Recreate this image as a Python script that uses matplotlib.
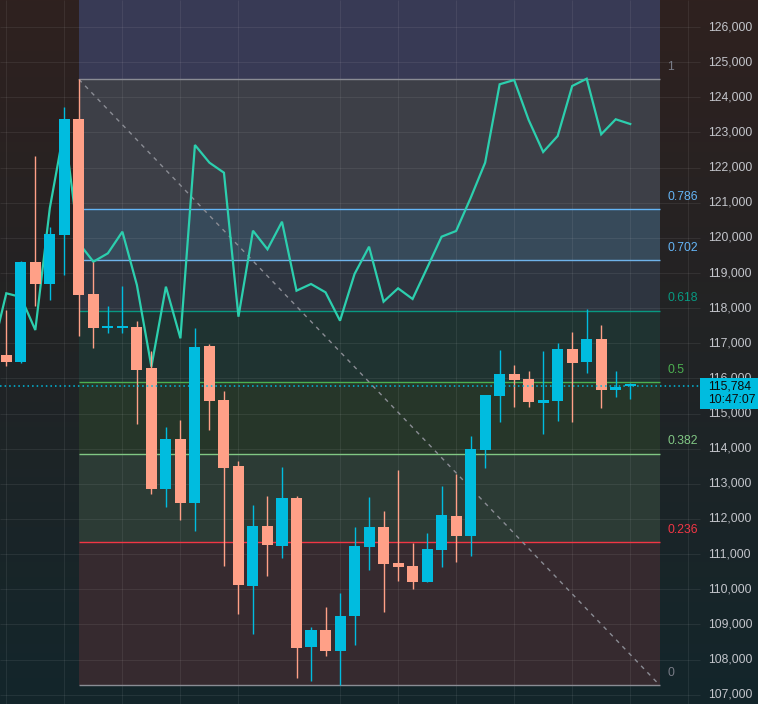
import numpy as np
import matplotlib
matplotlib.use("Agg")
import matplotlib.pyplot as plt
from matplotlib.patches import Rectangle

# ---------------- data ----------------
opens = [116667, 116476, 119314, 118696, 120091, 123383, 118403, 117441, 117435, 117455,
         116297, 112862, 114277, 112464, 116923, 115386, 113508, 110102, 111801, 111240,
         112598, 108366, 108841, 108252, 109248, 111212, 111772, 110748, 110662, 110216,
         111126, 112085, 111525, 113972, 115509, 116126, 115984, 115310, 115367, 116838,
         116476, 117122, 115680, 115771]
highs = [117948, 119330, 122330, 120310, 123725, 124513, 119322, 118061, 118631, 117635,
         116781, 114618, 114817, 117427, 116980, 115643, 113650, 112398, 112654, 113480,
         112654, 108926, 109496, 109903, 111772, 112626, 112228, 113394, 111317, 111602,
         112939, 113281, 114362, 115540, 116809, 116382, 116212, 116781, 117009, 117322,
         117976, 117521, 116212, 115879]
lows = [116363, 116450, 118070, 118241, 118944, 117216, 116875, 117279, 117279, 114712,
        112720, 112350, 111971, 111667, 114533, 110671, 109305, 108736, 110386, 110899,
        107484, 107398, 108110, 107276, 108423, 110557, 109362, 110244, 110016, 110200,
        110642, 110785, 110955, 113460, 114769, 115196, 115196, 114427, 114797, 114769,
        116163, 115167, 115480, 115423]
closes = [116476, 119314, 118696, 120110, 123383, 118383, 117444, 117464, 117492, 116249,
          112862, 114277, 112455, 116895, 115367, 113460, 110130, 111801, 111260, 112598,
          108329, 108841, 108252, 109239, 111232, 111772, 110728, 110642, 110216, 111146,
          112114, 111525, 113992, 115529, 116126, 115964, 115338, 115386, 116838, 116448,
          117122, 115680, 115756, 115784]

# overlay line (in price units of the chart)
line_idx = list(range(-1, 44))
line_vals = [116695, 118423, 118318, 117378, 120850, 123127, 119854, 119322, 119561, 120176,
             118659, 116334, 118611, 117142, 122643, 122140, 121855, 117757, 120204, 119675,
             120460, 118497, 118688, 118451, 117643, 118972, 119749, 118184, 118565, 118261,
             119143, 120034, 120196, 121135, 122140, 124371, 124493, 123355, 122444, 122899,
             124322, 124530, 122948, 123375, 123241]

fib_low = 107276
fib_high = 124513
fib_start_idx = 5
fib_levels = [0, 0.236, 0.382, 0.5, 0.618, 0.702, 0.786, 1, 1.618]
fib_labels = ["0", "0.236", "0.382", "0.5", "0.618", "0.702", "0.786", "1", "1.618"]
price_ticks = list(range(107000, 127000, 1000))
time_grid_idx = [0, 4, 8, 12, 16, 23, 27, 31, 35, 39, 43, 47]
last_price = 115784
last_time = "10:47:07"

# ---------------- styles / layout ----------------
W, H = 758, 704
X0_PX, DX_PX = 6.3, 14.51          # px position of first candle, px per candle
Y_ANCHOR_PRICE, Y_ANCHOR_PX, PX = 117000, 343.3, 28.458   # price per px
UP, DOWN = "#00bcdf", "#ffa087"
LINE_C = "#2ccfae"
TXT = "#c3c5cb"
FONT = ["Liberation Sans", "DejaVu Sans"]
FS = 8.7

fib_line_colors = ["#8a8c94", "#f23645", "#81c784", "#4caf50", "#089981", "#6fb3ea", "#64b5f6", "#8a8c94", None]
fib_text_colors = ["#787b86", "#f23645", "#81c784", "#4caf50", "#089981", "#64b5f6", "#64b5f6", "#787b86", None]
fib_fill_colors = [None, "#362a2f", "#2c3b35", "#263629", "#1f3331", "#2e3540", "#374a5a", "#3d3f47", "#383a55"]

def px_x(px):
    return (px - X0_PX) / DX_PX

xmin, xmax = px_x(0), px_x(W)
ymax = Y_ANCHOR_PRICE + Y_ANCHOR_PX * PX
ymin = Y_ANCHOR_PRICE - (H - Y_ANCHOR_PX) * PX
fib_end = px_x(659.5)
axis_px = 700

fig = plt.figure(figsize=(W / 100, H / 100), dpi=100)
ax = fig.add_axes([0, 0, 1, 1])
ax.set_xlim(xmin, xmax)
ax.set_ylim(ymin, ymax)
ax.axis("off")

# background gradient
top = np.array([0x2f, 0x21, 0x1f]) / 255
bot = np.array([0x13, 0x26, 0x2b]) / 255
t = np.linspace(0, 1, 256)[:, None, None]
grad = top[None, None, :] * (1 - t) + bot[None, None, :] * t
ax.imshow(grad, extent=[xmin, xmax, ymin, ymax], aspect="auto", origin="upper",
          zorder=0, interpolation="bilinear")

# fib fills
rng = fib_high - fib_low
lv_prices = [fib_low + l * rng for l in fib_levels]
for k in range(1, len(fib_levels)):
    ax.fill_between([fib_start_idx, fib_end], lv_prices[k - 1], lv_prices[k],
                    color=fib_fill_colors[k], lw=0, zorder=1)

# grid
ax.hlines(price_ticks, xmin, px_x(axis_px), color=(1, 1, 1, 0.07), lw=0.8, zorder=2)
ax.vlines(time_grid_idx, ymin, ymax, color=(1, 1, 1, 0.07), lw=0.8, zorder=2)

# fib lines + labels
trans = ax.get_yaxis_transform()
for k, l in enumerate(fib_levels):
    if fib_line_colors[k] is None:
        continue
    ax.hlines(lv_prices[k], fib_start_idx, fib_end, color=fib_line_colors[k], lw=1.0, zorder=3)
    ax.annotate(fib_labels[k], xy=(667 / W, lv_prices[k]), xycoords=trans,
                xytext=(0, 8.8), textcoords="offset points", ha="left", va="center",
                color=fib_text_colors[k], fontsize=FS, family=FONT, zorder=7)

# trend (diagonal) line
ax.plot([fib_start_idx, fib_end], [fib_high, fib_low], color="#8a8c94", lw=1.0,
        ls=(0, (3, 3.5)), zorder=3)

# overlay line
ax.plot(line_idx, line_vals, color=LINE_C, lw=1.6, zorder=4, solid_joinstyle="miter")

# candles
o = np.array(opens); c = np.array(closes); h = np.array(highs); lo = np.array(lows)
idx = np.arange(len(o))
cols = np.where(c >= o, UP, DOWN)
ax.vlines(idx, lo, h, colors=cols, lw=1.0, zorder=5)
body_bottom = np.minimum(o, c)
body_h = np.maximum(np.abs(c - o), 2.2 * PX)
ax.bar(idx, body_h, bottom=body_bottom, width=0.76, color=cols, lw=0, zorder=5)

# last price dotted line
ax.hlines(last_price, xmin, px_x(axis_px), color=UP, lw=1.1, ls=(0, (1, 2)), zorder=6)

# price axis labels
for p in price_ticks:
    ax.text(708 / W, p, f"{p:,}", transform=trans, ha="left", va="center",
            color=TXT, fontsize=FS, family=FONT, zorder=7)

# last price box
box = Rectangle((axis_px / W, last_price - 23.2 * PX), 1 - axis_px / W, 31.4 * PX,
                transform=trans, color=UP, lw=0, zorder=8)
ax.add_patch(box)
ax.text(708 / W, last_price, f"{last_price:,}", transform=trans, ha="left", va="center",
        color="#0c0c0c", fontsize=FS, family=FONT, zorder=9)
ax.text(708 / W, last_price - 13.8 * PX, last_time, transform=trans, ha="left", va="center",
        color="#0c0c0c", fontsize=FS, family=FONT, zorder=9)

fig.savefig("out.png", dpi=100)
